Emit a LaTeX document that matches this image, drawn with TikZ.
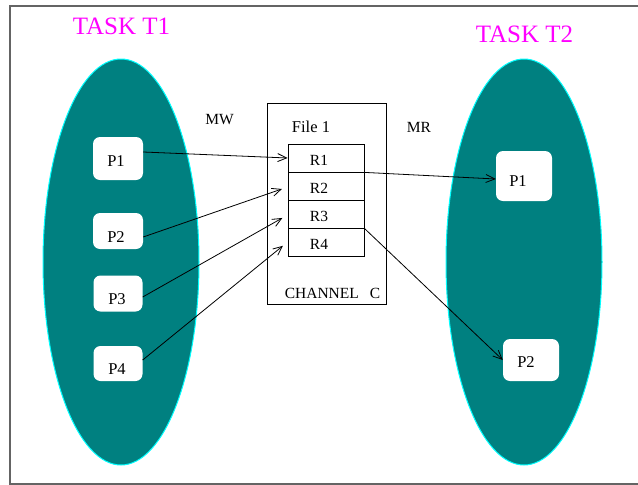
\documentclass[tikz,border=0pt]{standalone}
\usepackage{fontspec}
\setmainfont{Liberation Serif}
\usetikzlibrary{arrows.meta}
\definecolor{taskfill}{RGB}{0,128,128}
\definecolor{taskedge}{RGB}{0,255,255}
\definecolor{tasktitle}{RGB}{255,0,255}
\definecolor{framegray}{RGB}{100,100,100}
\begin{document}
\begin{tikzpicture}[x=1pt,y=-1pt,
  task/.style={fill=taskfill,draw=taskedge,line width=1pt},
  pbox/.style={fill=white,draw=none,rounded corners=7pt,inner sep=0pt},
  lbl/.style={inner sep=0pt,anchor=base,font=\fontsize{16.5}{18}\selectfont},
  rlbl/.style={inner sep=0pt,anchor=base,font=\fontsize{15.5}{18}\selectfont},
  title/.style={inner sep=0pt,anchor=base,text=tasktitle,font=\fontsize{25}{28}\selectfont},
  row/.style={draw,line width=0.8pt,minimum width=76pt,minimum height=28pt,inner sep=0pt},
  conn/.style={line width=0.8pt,-{Straight Barb[length=9pt,width=8pt,line width=0.8pt]}}
]
\useasboundingbox (0,0) rectangle (638,485);
% frame
\draw[framegray,line width=1.2pt] (638,6) -- (10,6) -- (10,484) -- (638,484);
% tasks
\path[task] (121,262) ellipse [x radius=78, y radius=203];
\path[task] (524,262) ellipse [x radius=78, y radius=203];
\node[title] (t1) at (121.5,34) {TASK T1};
\node[title] (t2) at (524.5,42) {TASK T2};
% left processes
\node[pbox,minimum width=50pt,minimum height=43pt] (p1) at (118,158.5) {};
\node[pbox,minimum width=50pt,minimum height=36pt] (p2) at (118,231) {};
\node[pbox,minimum width=49pt,minimum height=36pt] (p3) at (118,293.5) {};
\node[pbox,minimum width=49pt,minimum height=35pt] (p4) at (118,363.5) {};
\node[lbl] (p1l) at (116,166) {P1};
\node[lbl] (p2l) at (116,242) {P2};
\node[lbl] (p3l) at (117,304) {P3};
\node[lbl] (p4l) at (117,374) {P4};
% right processes
\node[pbox,minimum width=56pt,minimum height=50pt] (q1) at (524,176) {};
\node[pbox,minimum width=56pt,minimum height=42pt] (q2) at (531,360) {};
\node[lbl] (q1l) at (518,186) {P1};
\node[lbl] (q2l) at (526,367) {P2};
% channel
\node[draw,line width=0.8pt,minimum width=119pt,minimum height=201pt,inner sep=0pt] (ch) at (326.5,203.5) {};
\node[lbl] (file) at (311,132) {File 1};
\node[row] (r1) at (326,158) {};
\node[row] (r2) at (326,186) {};
\node[row] (r3) at (326,214) {};
\node[row] (r4) at (326,242) {};
\node[rlbl] (r1l) at (319,165.5) {R1};
\node[rlbl] (r2l) at (319,193.5) {R2};
\node[rlbl] (r3l) at (319,221) {R3};
\node[rlbl] (r4l) at (319,249) {R4};
\node[rlbl] (chl) at (332.5,298) {CHANNEL\hspace{11pt}C};
\node[rlbl] (mw) at (219.5,124) {MW};
\node[rlbl] (mr) at (419,132) {MR};
% connectors
\draw[conn] ([yshift=6.5pt]p1.east) -- (r1.west);
\draw[conn,shorten >=6pt] ([yshift=-6pt]p2.east) -- ([yshift=-1pt]r2.west);
\draw[conn,shorten >=6pt] ([yshift=-3.5pt]p3.east) -- ([yshift=-1pt]r3.west);
\draw[conn,shorten >=6pt] ([yshift=3.5pt]p4.east) -- (r4.west);
\draw[conn] (r1.south east) -- ([yshift=-3pt]q1.west);
\draw[conn] (r3.south east) -- (q2.west);
\end{tikzpicture}
\end{document}
